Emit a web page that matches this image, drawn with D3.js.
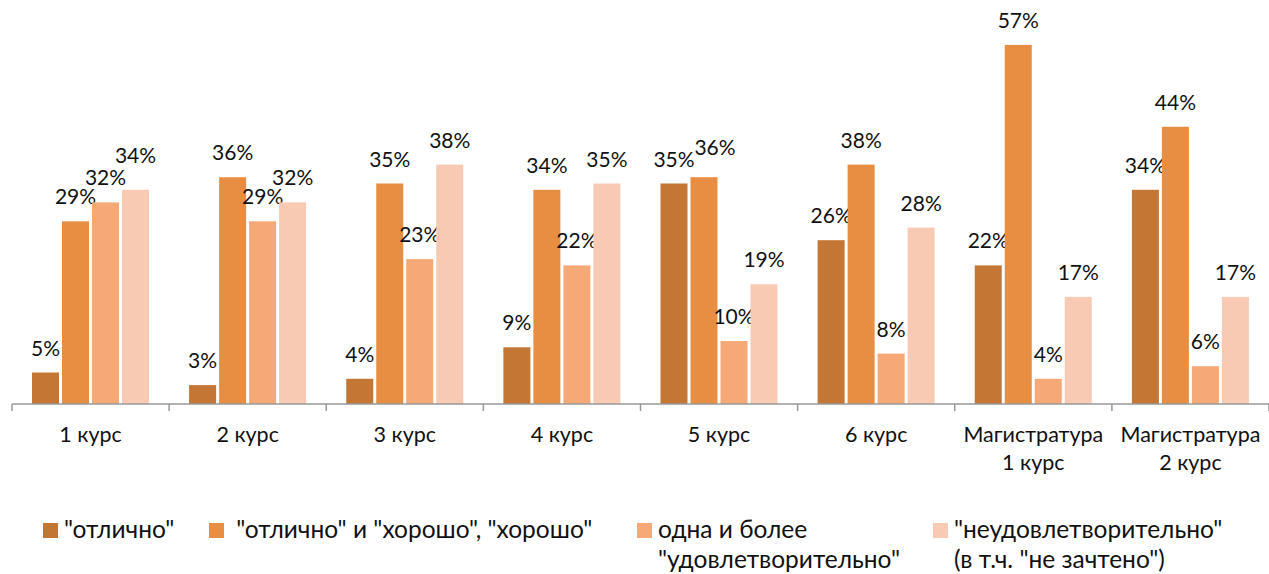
<!DOCTYPE html>
<html>
<meta charset="utf-8">
<head>
<script src="https://d3js.org/d3.v7.min.js"></script>
<style>
body { margin: 0; background: #fff; }
text { font-family: Lato, "Open Sans", sans-serif; fill: #111; white-space: pre; }
</style>
</head>
<body>
<script>
// data
var categories = ["1 курс", "2 курс", "3 курс", "4 курс", "5 курс", "6 курс", "Магистратура\n1 курс", "Магистратура\n2 курс"];
var seriesNames = ["\"отлично\"", " \"отлично\" и \"хорошо\", \"хорошо\"", "одна и более\n\"удовлетворительно\"", "\"неудовлетворительно\"\n(в т.ч. \"не зачтено\")"];
var excellent = [5, 3, 4, 9, 35, 26, 22, 34];
var good = [29, 36, 35, 34, 36, 38, 57, 44];
var satisfactory = [32, 29, 23, 22, 10, 8, 4, 6];
var unsatisfactory = [34, 32, 38, 35, 19, 28, 17, 17];
var series = [excellent, good, satisfactory, unsatisfactory];
var colors = ["#C47634", "#E88E42", "#F6A977", "#F8CAB3"];

// a couple of labels moved by hand so they don't collide ("category-series": [dx, dy])
var labelNudge = { "0-3": [0, -10], "4-1": [11, -5] };

var W = 1269, H = 574;
var svg = d3.select("body").append("svg")
    .attr("width", W)
    .attr("height", H);

var x0 = d3.scaleBand()
    .domain(categories)
    .range([12, 1269])
    .padding(0);

var x1 = d3.scaleBand()
    .domain(d3.range(series.length))
    .range([20, 137])
    .paddingInner(0.1);

var y = d3.scaleLinear()
    .domain([0, 60])
    .range([404, 26]);

// bars
var groups = svg.selectAll("g.cat")
    .data(categories)
  .enter().append("g")
    .attr("class", "cat")
    .attr("transform", function(d) { return "translate(" + x0(d) + ",0)"; });

groups.each(function(c, ci) {
  var g = d3.select(this);
  series.forEach(function(s, si) {
    var n = labelNudge[ci + "-" + si] || [0, 0];
    g.append("rect")
      .attr("x", x1(si))
      .attr("y", y(s[ci]))
      .attr("width", x1.bandwidth())
      .attr("height", y(0) - y(s[ci]))
      .style("fill", colors[si]);
    g.append("text")
      .attr("x", x1(si) + x1.bandwidth() / 2 + n[0])
      .attr("y", y(s[ci]) - 17 + n[1])
      .attr("text-anchor", "middle")
      .style("font-size", "21px")
      .text(s[ci] + "%");
  });
});

// axis
var axis = svg.append("g")
    .attr("transform", "translate(0," + y(0) + ")");
axis.append("line")
    .attr("x1", 12).attr("x2", 1269)
    .attr("y1", 0).attr("y2", 0)
    .style("stroke", "#999").style("stroke-width", 1.5);
axis.selectAll("line.tick")
    .data(categories.concat([null]))
  .enter().append("line")
    .attr("class", "tick")
    .attr("x1", function(d) { return d ? x0(d) : 1269; })
    .attr("x2", function(d) { return d ? x0(d) : 1269; })
    .attr("y1", 0).attr("y2", 7)
    .style("stroke", "#999").style("stroke-width", 1.5);

axis.selectAll("text.cat")
    .data(categories)
  .enter().append("text")
    .attr("class", "cat")
    .attr("x", function(d) { return x0(d) + x0.bandwidth() / 2; })
    .attr("y", 38)
    .attr("text-anchor", "middle")
    .style("font-size", "21.5px")
    .each(function(d) {
      var t = d3.select(this);
      d.split("\n").forEach(function(line, i) {
        t.append("tspan")
          .attr("x", x0(d) + x0.bandwidth() / 2)
          .attr("dy", i ? 28 : 0)
          .text(line);
      });
    });

// legend
var legendX = [43, 209, 637, 933];
var legend = svg.selectAll("g.legend")
    .data(seriesNames)
  .enter().append("g")
    .attr("class", "legend")
    .attr("transform", function(d, i) { return "translate(" + legendX[i] + ",523)"; });

legend.append("rect")
    .attr("width", 15).attr("height", 15)
    .style("fill", function(d, i) { return colors[i]; });

legend.append("text")
    .attr("x", 21)
    .attr("y", 15)
    .style("font-size", "24.5px")
    .each(function(d) {
      var t = d3.select(this);
      d.split("\n").forEach(function(line, i) {
        t.append("tspan")
          .attr("x", 21)
          .attr("dy", i ? 30 : 0)
          .text(line);
      });
    });
</script>
</body>
</html>
